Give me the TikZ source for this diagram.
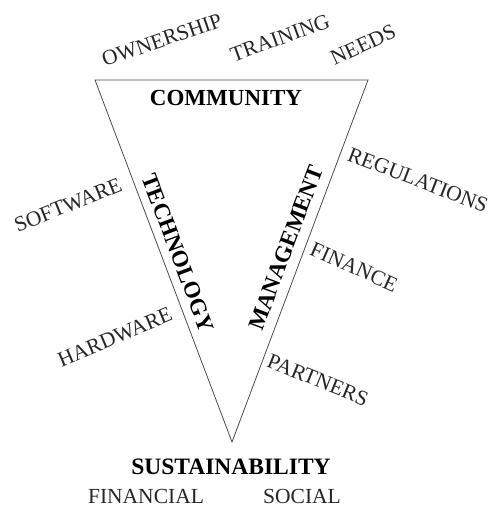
\documentclass[tikz,border=0pt]{standalone}
\usepackage{fontspec}
\setmainfont{Liberation Serif}
\begin{document}
\begin{tikzpicture}[x=1pt,y=-1pt]
\tikzset{word/.style={font=\fontsize{21.5}{21.5}\selectfont, text=black!85, inner sep=0pt},
  head/.style={font=\fontsize{23}{23}\selectfont\bfseries, inner sep=0pt}}
\useasboundingbox (0,0) rectangle (494,510);
\coordinate (top l) at (95,80);
\coordinate (top r) at (368,80);
\coordinate (tip) at (232,442);
\draw[black!70, line width=.8pt] (top l) -- (top r) -- (tip) -- cycle;
\node[head] (community) at (226,98) {COMMUNITY};
\node[head, rotate=-69.3] (technology) at (178,253) {TECHNOLOGY};
\node[head, rotate=69.4] (management) at (286,248) {MANAGEMENT};
\node[head, font=\fontsize{23.5}{23.5}\selectfont\bfseries] (sustainability) at (231,467) {SUSTAINABILITY};
\foreach \x/\y/\r/\n in {162/40/19/OWNERSHIP,280/38/20/TRAINING,363/45/25/NEEDS,
    68/205/22/SOFTWARE,115/337/23/HARDWARE,
    418/180/-21/REGULATIONS,354/267/-24/FINANCE,318/380/-22/PARTNERS,
    146/496/0/FINANCIAL,302/496/0/SOCIAL}{
    \node[word, rotate=\r] (\n) at (\x,\y) {\n};
}
\end{tikzpicture}
\end{document}
